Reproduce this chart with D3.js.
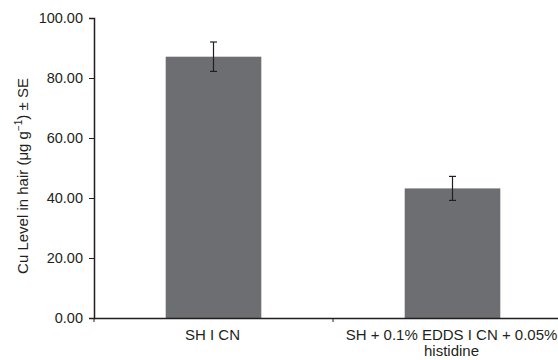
<!DOCTYPE html>
<html>
<head>
<meta charset="utf-8">
<script src="https://cdn.jsdelivr.net/npm/d3@7"></script>
<style>
body { margin: 0; background: #fff; }
text { font-family: "Liberation Sans", Arial, sans-serif; fill: #231f20; }
</style>
</head>
<body>
<div id="canvas"></div>
<script>
const categories = ["SH I CN", "SH + 0.1% EDDS I CN + 0.05%|histidine"];
const values = [87.1, 43.2];
const errors = [4.9, 4.0];
const yTicks = [0, 20, 40, 60, 80, 100];

const width = 558;
const height = 360;
const margin = { top: 18, left: 94, bottom: 42, right: -14 };
const iwidth = width - margin.left - margin.right;
const iheight = height - margin.top - margin.bottom;

const svg = d3.select("#canvas").append("svg")
    .attr("width", width)
    .attr("height", height);

const g = svg.append("g").attr("transform", `translate(${margin.left},${margin.top})`);

const x = d3.scaleBand()
    .domain(categories)
    .range([0, iwidth])
    .paddingInner(0.6)
    .paddingOuter(0.3);

const y = d3.scaleLinear()
    .domain([0, 100])
    .range([iheight, 0]);

// bars
g.selectAll("rect.bar").data(values).enter().append("rect")
    .attr("class", "bar")
    .attr("x", (d, i) => x(categories[i]))
    .attr("y", d => y(d))
    .attr("width", x.bandwidth())
    .attr("height", d => iheight - y(d))
    .style("fill", "#6d6e71");

// error bars
const err = g.selectAll("g.err").data(values).enter().append("g")
    .attr("class", "err")
    .attr("transform", (d, i) => `translate(${x(categories[i]) + x.bandwidth() / 2},0)`);
err.append("line")
    .attr("y1", (d, i) => y(d + errors[i]))
    .attr("y2", (d, i) => y(d - errors[i]))
    .attr("stroke", "#231f20").attr("stroke-width", 1.2);
err.append("line")
    .attr("x1", -3.5).attr("x2", 3.5)
    .attr("y1", (d, i) => y(d + errors[i]))
    .attr("y2", (d, i) => y(d + errors[i]))
    .attr("stroke", "#231f20").attr("stroke-width", 1.2);
err.append("line")
    .attr("x1", -3.5).attr("x2", 3.5)
    .attr("y1", (d, i) => y(d - errors[i]))
    .attr("y2", (d, i) => y(d - errors[i]))
    .attr("stroke", "#231f20").attr("stroke-width", 1.2);

// y axis
const yAxis = g.append("g")
    .classed("y--axis", true)
    .call(d3.axisLeft(y).tickValues(yTicks).tickFormat(d3.format(".2f")).tickSizeOuter(0).tickSize(5));
yAxis.select(".domain").attr("stroke", "#231f20").attr("stroke-width", 1.5);
yAxis.selectAll(".tick line").attr("stroke", "#231f20");
yAxis.selectAll(".tick text").attr("x", -11).style("font-size", "14.5px");

// x axis
const step = x.step();
const xAxis = g.append("g")
    .classed("x--axis", true)
    .attr("transform", `translate(0,${iheight})`)
    .call(d3.axisBottom(x).tickSize(0).tickSizeOuter(0).tickFormat(""));
xAxis.select(".domain").attr("stroke", "#231f20").attr("stroke-width", 1.5);
xAxis.selectAll(".tick").remove();

// separator ticks between categories
g.selectAll("line.sep").data([0, 1]).enter().append("line")
    .attr("class", "sep")
    .attr("x1", i => i * step).attr("x2", i => i * step)
    .attr("y1", iheight).attr("y2", iheight + 4)
    .attr("stroke", "#231f20");

// category labels
const labels = g.selectAll("text.cat").data(categories).enter().append("text")
    .attr("class", "cat")
    .attr("text-anchor", "middle")
    .attr("transform", d => `translate(${x(d) + x.bandwidth() / 2 - 1},${iheight + 22})`)
    .style("font-size", "15px");
labels.each(function (d) {
    const lines = d.split("|");
    d3.select(this).selectAll("tspan").data(lines).enter().append("tspan")
        .attr("x", 0)
        .attr("dy", (l, j) => j === 0 ? 0 : 16)
        .text(l => l);
});

// y axis title
svg.append("text")
    .attr("transform", `translate(28,176) rotate(-90)`)
    .attr("text-anchor", "middle")
    .style("font-size", "15px")
    .html("Cu Level in hair (μg g<tspan dy='-6' font-size='10'>−1</tspan><tspan dy='6'>) ± SE</tspan>");
</script>
</body>
</html>
